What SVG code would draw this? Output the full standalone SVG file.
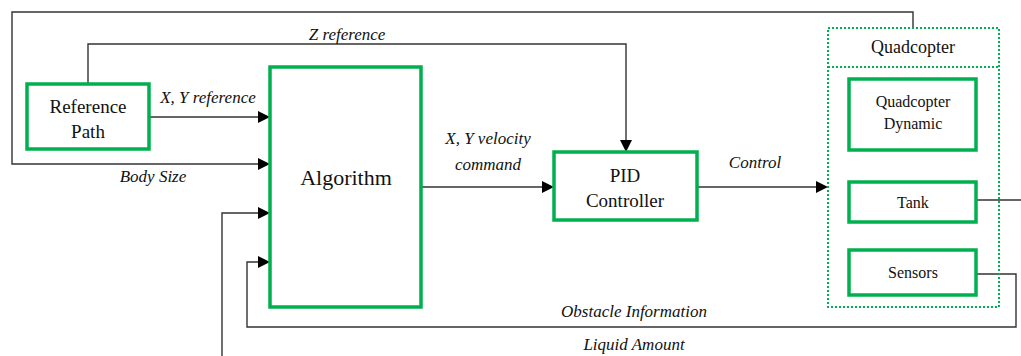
<svg xmlns="http://www.w3.org/2000/svg" width="1021" height="356" viewBox="0 0 1021 356">
<style>
.box{fill:#fff;stroke:#00b04f;stroke-width:3.5}
.dot{fill:none;stroke:#00b04f;stroke-width:2;stroke-dasharray:2 2}
.ln{fill:none;stroke:#333;stroke-width:1.4}
.hd{fill:#000}
</style>
<rect width="1021" height="356" fill="#fff"/>
<g id="connectors">
<path class="ln" d="M913,28 V12 H12 V164 H259"/>
<path class="ln" d="M88,84 V44 H626 V141"/>
<path class="ln" d="M149,117 H259"/>
<path class="ln" d="M222,356 V213 H259"/>
<path class="ln" d="M976,274 H1016 V327 H247 V262 H259"/>
<path class="ln" d="M976,200 H1021"/>
<path class="ln" d="M421,187 H543"/>
<path class="ln" d="M697,187 H817"/>
<path class="hd" d="M258,158 L270,164 L258,170 Z"/>
<path class="hd" d="M258,111 L270,117 L258,123 Z"/>
<path class="hd" d="M258,207 L270,213 L258,219 Z"/>
<path class="hd" d="M258,256 L270,262 L258,268 Z"/>
<path class="hd" d="M542,181 L554,187 L542,193 Z"/>
<path class="hd" d="M816,181 L828,187 L816,193 Z"/>
<path class="hd" d="M620,140 L626,152 L632,140 Z"/>
<g fill="#111" text-anchor="middle" font-family="Liberation Serif" font-style="italic" font-size="17">
<text x="347" y="40">Z reference</text>
<text x="208" y="103">X, Y reference</text>
<text x="153" y="182">Body Size</text>
<text x="488" y="144">X, Y velocity</text>
<text x="488" y="170">command</text>
<text x="755" y="168">Control</text>
<text x="634" y="317">Obstacle Information</text>
<text x="634" y="350">Liquid Amount</text>
</g>
</g>
<g id="reference-path">
<rect class="box" x="27" y="84" width="122" height="65"/>
<text x="88" y="113" font-family="Liberation Serif" font-size="19" text-anchor="middle" fill="#111">Reference</text>
<text x="88" y="138" font-family="Liberation Serif" font-size="19" text-anchor="middle" fill="#111">Path</text>
</g>
<g id="algorithm">
<rect class="box" x="270" y="67" width="151" height="240"/>
<text x="346" y="185" font-family="Liberation Serif" font-size="22" text-anchor="middle" fill="#111">Algorithm</text>
</g>
<g id="pid-controller">
<rect class="box" x="554" y="152" width="143" height="68"/>
<text x="625" y="182" font-family="Liberation Serif" font-size="19" text-anchor="middle" fill="#111">PID</text>
<text x="625" y="207" font-family="Liberation Serif" font-size="19" text-anchor="middle" fill="#111">Controller</text>
</g>
<g id="quadcopter">
<rect class="dot" x="828" y="28" width="171" height="279"/>
<line class="dot" x1="828" y1="67" x2="999" y2="67"/>
<text x="913" y="53" font-family="Liberation Serif" font-size="18" text-anchor="middle" fill="#111">Quadcopter</text>
</g>
<g id="quadcopter-dynamic">
<rect class="box" x="849" y="79" width="127" height="71"/>
<text x="913" y="107" font-family="Liberation Serif" font-size="16" text-anchor="middle" fill="#111">Quadcopter</text>
<text x="913" y="129" font-family="Liberation Serif" font-size="16" text-anchor="middle" fill="#111">Dynamic</text>
</g>
<g id="tank">
<rect class="box" x="849" y="182" width="127" height="40"/>
<text x="913" y="208" font-family="Liberation Serif" font-size="16" text-anchor="middle" fill="#111">Tank</text>
</g>
<g id="sensors">
<rect class="box" x="849" y="250" width="127" height="45"/>
<text x="913" y="278" font-family="Liberation Serif" font-size="16" text-anchor="middle" fill="#111">Sensors</text>
</g>
</svg>
